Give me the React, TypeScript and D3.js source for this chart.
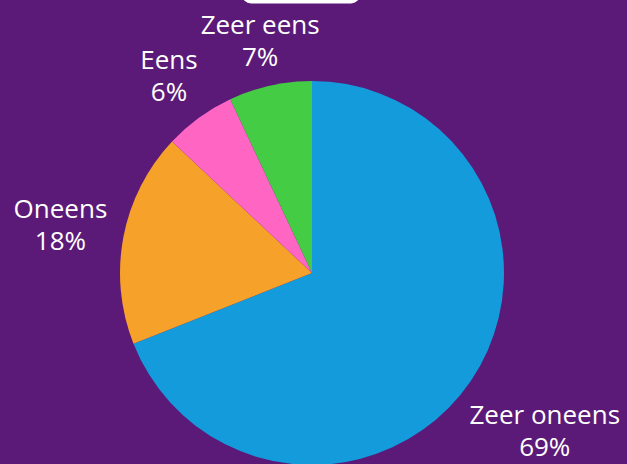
import React from "react";
import * as d3 from "d3";

const categories = ["Zeer oneens", "Oneens", "Eens", "Zeer eens"];
const values = [69, 18, 6, 7];
const colors = ["#139BDC", "#F5A12A", "#FF66C4", "#44CC44"];

const W = 627;
const H = 464;
const CX = 312;
const CY = 273;
const R = 192;
const FONT = 26;
const LINE = 32;
const GAP = 15;

function textWidth(s: string, size: number) {
  if (typeof document === "undefined") return s.length * size * 0.55;
  const c = document.createElement("canvas").getContext("2d")!;
  c.font = `${size}px "Open Sans"`;
  return c.measureText(s).width;
}

// distance along direction (vx, vy) at which the label box's nearest point is R + GAP away
function labelDistance(vx: number, vy: number, hw: number, hh: number) {
  const target = R + GAP;
  const near = (t: number) => {
    const dx = Math.max(0, Math.abs(vx * t) - hw);
    const dy = Math.max(0, Math.abs(vy * t) - hh);
    return Math.hypot(dx, dy);
  };
  let lo = 0;
  let hi = 1000;
  for (let k = 0; k < 60; k++) {
    const m = (lo + hi) / 2;
    if (near(m) < target) lo = m;
    else hi = m;
  }
  return (lo + hi) / 2;
}

export default function App() {
  const pie = d3.pie<number>().sort(null).value((d) => d);
  const arcs = pie(values);
  const arc = d3.arc<d3.PieArcDatum<number>>().innerRadius(0).outerRadius(R);
  const total = d3.sum(values);
  return (
    <svg width={W} height={H} style={{ position: "absolute", left: 0, top: 0, display: "block" }}>
      <rect width={W} height={H} fill="#5B1A78" />
      <rect x={242} y={-20} width={118} height={23.5} rx={9} fill="#ffffff" />
      <g transform={`translate(${CX},${CY})`}>
        {arcs.map((a, i) => (
          <path key={i} d={arc(a) || ""} fill={colors[i]} />
        ))}
      </g>
      {arcs.map((a, i) => {
        const mid = (a.startAngle + a.endAngle) / 2;
        const vx = Math.sin(mid);
        const vy = -Math.cos(mid);
        const pct = `${Math.round((values[i] / total) * 100)}%`;
        const w = Math.max(textWidth(categories[i], FONT), textWidth(pct, FONT)) - 2;
        const dist = labelDistance(vx, vy, w / 2, 25);
        const x = CX + vx * dist;
        const y = CY + vy * dist;
        return (
          <text
            key={i}
            fill="#ffffff"
            fontFamily="'Open Sans', sans-serif"
            fontSize={FONT}
            textAnchor="middle"
          >
            <tspan x={x} y={y - 7}>{categories[i]}</tspan>
            <tspan x={x} y={y - 7 + LINE}>{pct}</tspan>
          </text>
        );
      })}
    </svg>
  );
}
